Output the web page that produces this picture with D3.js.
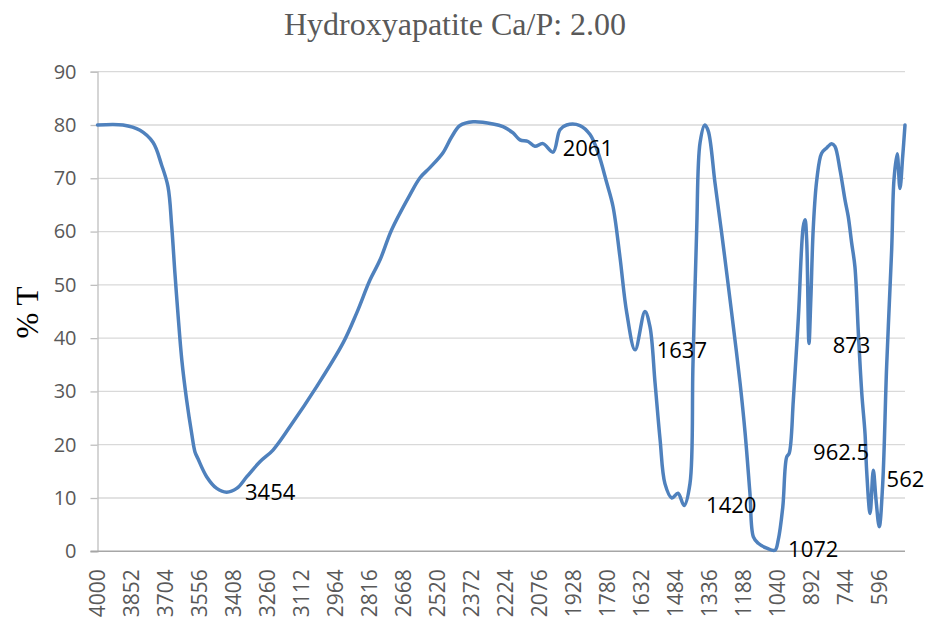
<!DOCTYPE html>
<html>
<head>
<meta charset="utf-8">
<script src="https://cdn.jsdelivr.net/npm/d3@7"></script>
<style>
  html, body { margin: 0; padding: 0; background: #ffffff; }
  svg { display: block; }
</style>
</head>
<body>
<svg id="chart" width="931" height="623"></svg>
<script>
// ---- Data ----
const titleText = "Hydroxyapatite Ca/P: 2.00";
const yTitle = "% T";

const wavenumbers = [4000, 3889, 3815, 3758, 3721, 3693, 3677, 3663, 3650, 3633,
  3612, 3590, 3576, 3563, 3525, 3481, 3438, 3394, 3350, 3293,
  3236, 3162, 3046, 2931, 2872, 2814, 2770, 2720, 2640, 2596,
  2553, 2496, 2458, 2422, 2365, 2278, 2235, 2191, 2161, 2126,
  2096, 2061, 2017, 1987, 1958, 1900, 1856, 1821, 1783, 1756,
  1726, 1696, 1660, 1617, 1595, 1573, 1551, 1530, 1500, 1473,
  1447, 1421, 1408, 1392, 1377, 1356, 1341, 1312, 1283, 1261,
  1232, 1203, 1181, 1160, 1145, 1124, 1087, 1051, 1037, 1017,
  1000, 989, 971, 949, 928, 920, 913, 903, 895, 884,
  869, 848, 826, 804, 790, 768, 746, 732, 717, 703,
  688, 673, 659, 652, 637, 623, 611, 597, 582, 565,
  543, 533, 519, 507, 495, 485];

const transmittance = [80, 80, 79, 76.7, 72.5, 68.4, 61, 52.2, 44.7, 35.9,
  28.4, 22.1, 18.7, 17.4, 14, 11.8, 11.1, 11.8, 14, 16.8,
  19, 23.4, 30.9, 39.1, 44.7, 50.9, 54.7, 60.3, 66.9, 70.1,
  72, 74.8, 77.8, 79.9, 80.6, 80.2, 79.7, 78.5, 77.2, 76.9,
  76, 76.5, 74.9, 79.1, 80, 79.9, 78.2, 74.8, 69.1, 64.7,
  55.3, 44.7, 37.8, 45, 42.1, 31.6, 20.9, 12.7, 10, 10.9,
  8.6, 12.7, 35, 60, 76.7, 80, 78.8, 69.1, 59.7, 52.2,
  42.1, 31.6, 22.2, 10.9, 2.7, 1.5, 0.6, 0.2, 2.1, 8.3,
  17.7, 18.4, 28.4, 44, 60.9, 62.2, 58.4, 39, 47.2, 60.9,
  69.7, 74.7, 75.7, 76.5, 76, 71.6, 65.9, 62.8, 57.8, 53.4,
  40.9, 29.6, 22.1, 15.2, 7.1, 15.2, 9.6, 4.6, 12.7, 34.6,
  56.6, 69.7, 74.6, 68.1, 74.1, 80];

const xTickLabels = [4000, 3852, 3704, 3556, 3408, 3260, 3112, 2964, 2816, 2668,
  2520, 2372, 2224, 2076, 1928, 1780, 1632, 1484, 1336, 1188, 1040, 892, 744, 596];
const yTickValues = [0, 10, 20, 30, 40, 50, 60, 70, 80, 90];

// Peak annotation labels: text and anchor (wavenumber, %T) of the label's left baseline
const peakLabels = ["3454", "2061", "1637", "1420", "1072", "873", "962.5", "562"];
const peakLabelWn = [3358, 1975, 1566, 1351, 994, 800, 885, 565];
const peakLabelT = [9.6, 74.2, 36.3, 7.1, -1.0, 37.2, 17.1, 12.0];

// ---- Layout ----
const plot = { left: 97.5, right: 905, top: 71.7, bottom: 551.3 };

const svg = d3.select("#chart");

const x = d3.scaleLinear().domain([4000, 485]).range([plot.left, plot.right]);
const y = d3.scaleLinear().domain([0, 90]).range([plot.bottom, plot.top]);

// Gridlines
svg.append("g")
  .selectAll("line")
  .data(yTickValues.filter(v => v > 0))
  .join("line")
  .attr("x1", plot.left).attr("x2", plot.right)
  .attr("y1", d => y(d)).attr("y2", d => y(d))
  .attr("stroke", "#d9d9d9").attr("stroke-width", 1.3);

// Y axis
const yAxis = d3.axisLeft(y).tickValues(yTickValues).tickSize(7).tickPadding(14).tickFormat(d3.format("d"));
const gy = svg.append("g").attr("transform", `translate(${plot.left},0)`).call(yAxis);
gy.select(".domain").attr("stroke", "#bfbfbf").attr("stroke-width", 1.3);
gy.selectAll(".tick line").attr("stroke", "#bfbfbf").attr("stroke-width", 1.3);
gy.selectAll(".tick text")
  .attr("fill", "#595959")
  .style("font-family", "'Open Sans', 'Liberation Sans', sans-serif")
  .style("font-size", "20px");

// X axis (category-like labels, rotated)
const xAxis = d3.axisBottom(x).tickValues(xTickLabels).tickSize(0).tickPadding(0).tickFormat(d3.format("d"));
const gx = svg.append("g").attr("transform", `translate(0,${plot.bottom})`).call(xAxis);
gx.select(".domain").remove();
gx.selectAll(".tick text")
  .attr("fill", "#595959")
  .attr("text-anchor", "end")
  .attr("transform", "rotate(-90)")
  .attr("x", -18)
  .attr("y", 0)
  .attr("dy", "0.35em")
  .style("font-family", "'Open Sans', 'Liberation Sans', sans-serif")
  .style("font-size", "21px");
svg.append("line")
  .attr("x1", plot.left - 7).attr("x2", plot.right)
  .attr("y1", plot.bottom).attr("y2", plot.bottom)
  .attr("stroke", "#a6a6a6").attr("stroke-width", 1.5);

// Spectrum line
const points = wavenumbers.map((w, i) => [w, transmittance[i]]);
const line = d3.line()
  .x(d => x(d[0]))
  .y(d => y(d[1]))
  .curve(d3.curveCatmullRom.alpha(0.5));
svg.append("path")
  .datum(points)
  .attr("d", line)
  .attr("fill", "none")
  .attr("stroke", "#4f81bd")
  .attr("stroke-width", 3.5)
  .attr("stroke-linejoin", "round")
  .attr("stroke-linecap", "round");

// Peak labels
svg.append("g")
  .selectAll("text")
  .data(peakLabels)
  .join("text")
  .attr("x", (d, i) => x(peakLabelWn[i]))
  .attr("y", (d, i) => y(peakLabelT[i]))
  .attr("fill", "#000000")
  .style("font-family", "'Open Sans', 'Liberation Sans', sans-serif")
  .style("font-size", "22px")
  .text(d => d);

// Title
svg.append("text")
  .attr("x", 455).attr("y", 35)
  .attr("text-anchor", "middle")
  .attr("fill", "#595959")
  .style("font-family", "'Liberation Serif', 'Times New Roman', serif")
  .style("font-size", "32px")
  .text(titleText);

// Y axis title
svg.append("text")
  .attr("transform", `translate(38,${(plot.top + plot.bottom) / 2 + 1}) rotate(-90)`)
  .attr("text-anchor", "middle")
  .attr("fill", "#000000")
  .style("font-family", "'Liberation Serif', 'Times New Roman', serif")
  .style("font-size", "31px")
  .text(yTitle);
</script>
</body>
</html>
